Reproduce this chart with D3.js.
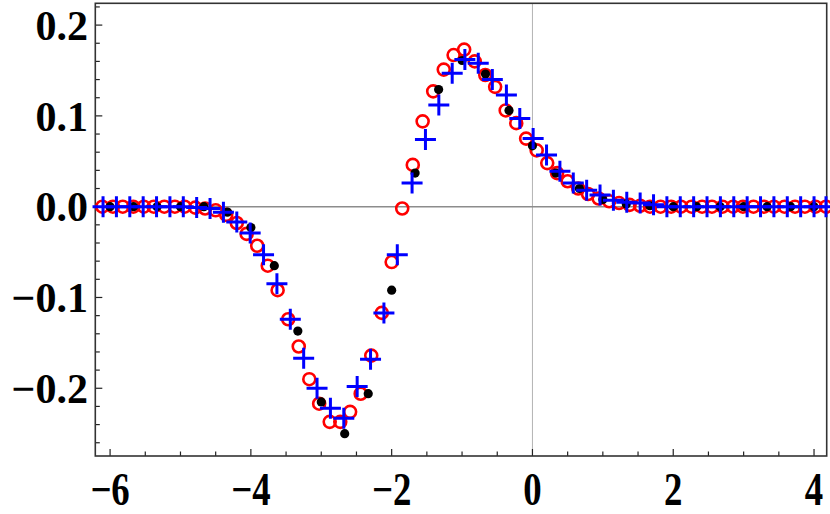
<!DOCTYPE html>
<html>
<head>
<meta charset="utf-8">
<script src="https://cdn.jsdelivr.net/npm/d3@7"></script>
<style>
  body { margin: 0; background: #fff; }
  .ticklabel { font-family: 'Liberation Serif', 'Times New Roman', serif; font-weight: bold; fill: #000; }
</style>
</head>
<body>
<svg class="chart" width="830" height="514"></svg>
<script>
// black dots [x, y]
var blackPts = [
  [-6, 0], [-5.667, 0], [-5.333, 0], [-5, 0], [-4.667, 0], [-4.333, -0.006],
  [-4, -0.023], [-3.667, -0.065], [-3.333, -0.137], [-3, -0.215], [-2.667, -0.250],
  [-2.333, -0.206], [-2, -0.092], [-1.667, 0.037], [-1.333, 0.129], [-1, 0.161],
  [-0.667, 0.146], [-0.333, 0.106], [0, 0.067], [0.333, 0.037], [0.667, 0.020],
  [1, 0.008], [1.333, 0.003], [1.667, 0.001], [2, 0], [2.333, 0], [2.667, 0],
  [3, 0], [3.333, 0], [3.667, 0], [4, 0]
];

// red open circles [x, y]
var redPts = [
  [-6.11, 0], [-5.96, 0], [-5.82, 0], [-5.67, 0], [-5.52, 0], [-5.38, 0], [-5.23, 0],
  [-5.08, 0], [-4.94, 0], [-4.79, -0.001], [-4.65, -0.002], [-4.50, -0.004],
  [-4.35, -0.009], [-4.20, -0.018], [-4.06, -0.030], [-3.91, -0.043], [-3.76, -0.065],
  [-3.62, -0.092], [-3.47, -0.124], [-3.32, -0.154], [-3.17, -0.190], [-3.03, -0.217],
  [-2.88, -0.237], [-2.73, -0.237], [-2.59, -0.226], [-2.44, -0.206], [-2.29, -0.164],
  [-2.14, -0.117], [-2.00, -0.061], [-1.85, -0.002], [-1.70, 0.046], [-1.56, 0.094],
  [-1.41, 0.127], [-1.26, 0.151], [-1.12, 0.167], [-0.97, 0.173], [-0.82, 0.160],
  [-0.67, 0.145], [-0.53, 0.132], [-0.38, 0.106], [-0.23, 0.092], [-0.09, 0.075],
  [0.06, 0.062], [0.21, 0.048], [0.35, 0.037], [0.50, 0.028], [0.65, 0.020],
  [0.79, 0.014], [0.94, 0.009], [1.09, 0.006], [1.23, 0.004], [1.38, 0.002],
  [1.53, 0.001], [1.67, 0], [1.82, 0], [1.97, 0], [2.11, 0], [2.26, 0], [2.41, 0],
  [2.55, 0], [2.70, 0], [2.85, 0], [2.99, 0], [3.14, 0], [3.29, 0], [3.43, 0],
  [3.58, 0], [3.73, 0], [3.87, 0], [4.02, 0], [4.17, 0]
];

// blue plus signs [x, y]
var bluePts = [
  [-6.10, 0], [-5.91, 0], [-5.72, 0], [-5.53, 0], [-5.34, 0], [-5.15, 0], [-4.96, 0],
  [-4.77, -0.001], [-4.58, -0.002], [-4.39, -0.006], [-4.20, -0.017], [-4.01, -0.029],
  [-3.82, -0.053], [-3.63, -0.085], [-3.44, -0.124], [-3.25, -0.167], [-3.06, -0.200],
  [-2.87, -0.222], [-2.68, -0.233], [-2.49, -0.198], [-2.30, -0.168], [-2.11, -0.117],
  [-1.92, -0.053], [-1.71, 0.026], [-1.52, 0.074], [-1.33, 0.112], [-1.14, 0.147],
  [-0.96, 0.162], [-0.77, 0.158], [-0.57, 0.140], [-0.37, 0.123], [-0.18, 0.097],
  [0.01, 0.075], [0.20, 0.057], [0.39, 0.039], [0.58, 0.026], [0.77, 0.018],
  [0.96, 0.013], [1.15, 0.007], [1.34, 0.005], [1.53, 0.004], [1.72, 0.002],
  [1.91, 0], [2.10, 0], [2.29, 0], [2.48, 0], [2.67, 0], [2.86, 0], [3.05, 0],
  [3.24, 0], [3.43, 0], [3.62, 0], [3.81, 0], [4.00, 0], [4.17, 0]
];

var xTickLabels = [-6, -4, -2, 0, 2, 4];
var yTickLabels = [-0.2, -0.1, 0.0, 0.1, 0.2];

init();

function init() {
  var svg = d3.select('svg.chart');

  var plot = { left: 95.3, right: 826.7, top: 3.3, bottom: 456 };

  var x = d3.scaleLinear().domain([-6.21, 4.18]).range([plot.left, plot.right]);
  var y = d3.scaleLinear().domain([-0.2746, 0.224]).range([plot.bottom, plot.top]);

  // axis lines through origin
  svg.append('line')
    .attr('x1', x(0)).attr('x2', x(0))
    .attr('y1', plot.top).attr('y2', plot.bottom)
    .style('stroke', '#b3b3b3').style('stroke-width', 1);

  svg.append('line')
    .attr('x1', plot.left).attr('x2', plot.right)
    .attr('y1', y(0)).attr('y2', y(0))
    .style('stroke', '#8c8c8c').style('stroke-width', 1.6);

  // ticks, major and minor
  var xMinor = d3.range(-6, 4.01, 0.5);
  svg.append('g').selectAll('line')
    .data(xMinor)
    .enter().append('line')
    .attr('x1', function(d) { return x(d); })
    .attr('x2', function(d) { return x(d); })
    .attr('y1', plot.bottom)
    .attr('y2', function(d) { return plot.bottom - (Math.abs(d % 2) < 1e-6 ? 7 : 4.5); })
    .style('stroke', '#222').style('stroke-width', 1.2);

  var yMinor = d3.range(-26, 23, 2).map(function(d) { return d / 100; });
  svg.append('g').selectAll('line')
    .data(yMinor)
    .enter().append('line')
    .attr('y1', function(d) { return y(d); })
    .attr('y2', function(d) { return y(d); })
    .attr('x1', plot.left)
    .attr('x2', function(d) { return plot.left + (Math.abs(Math.round(d * 100) % 10) === 0 ? 7 : 4.5); })
    .style('stroke', '#222').style('stroke-width', 1.2);

  // frame
  svg.append('rect')
    .attr('x', plot.left).attr('y', plot.top)
    .attr('width', plot.right - plot.left)
    .attr('height', plot.bottom - plot.top)
    .style('fill', 'none').style('stroke', '#333').style('stroke-width', 1.6);

  // tick labels
  svg.append('g').selectAll('text')
    .data(xTickLabels)
    .enter().append('text')
    .attr('class', 'ticklabel')
    .style('font-size', '46px')
    .attr('transform', function(d) {
      return 'translate(' + x(d) + ',505) scale(0.8,1)';
    })
    .attr('text-anchor', 'middle')
    .text(function(d) { return d < 0 ? '\u2212' + Math.abs(d) : d; });

  svg.append('g').selectAll('text')
    .data(yTickLabels)
    .enter().append('text')
    .attr('class', 'ticklabel')
    .style('font-size', '42px')
    .attr('x', 88)
    .attr('y', function(d) { return y(d); })
    .attr('dy', '0.35em')
    .attr('text-anchor', 'end')
    .text(function(d) { return (d < 0 ? '\u2212' : '') + Math.abs(d).toFixed(1); });

  // red open circles
  svg.append('g').selectAll('circle')
    .data(redPts)
    .enter().append('circle')
    .attr('cx', function(d) { return x(d[0]); })
    .attr('cy', function(d) { return y(d[1]); })
    .attr('r', 6)
    .style('fill', 'none')
    .style('stroke', '#ff0000')
    .style('stroke-width', 2.6);

  // black dots
  svg.append('g').selectAll('circle')
    .data(blackPts)
    .enter().append('circle')
    .attr('cx', function(d) { return x(d[0]); })
    .attr('cy', function(d) { return y(d[1]); })
    .attr('r', 4.6)
    .style('fill', '#000');

  // blue pluses
  svg.append('g').selectAll('path')
    .data(bluePts)
    .enter().append('path')
    .attr('d', 'M-10.5,0H10.5M0,-10.5V10.5')
    .attr('transform', function(d) {
      return 'translate(' + x(d[0]) + ',' + y(d[1]) + ')';
    })
    .style('stroke', '#0000ff')
    .style('stroke-width', 3)
    .style('fill', 'none');
}
</script>
</body>
</html>
